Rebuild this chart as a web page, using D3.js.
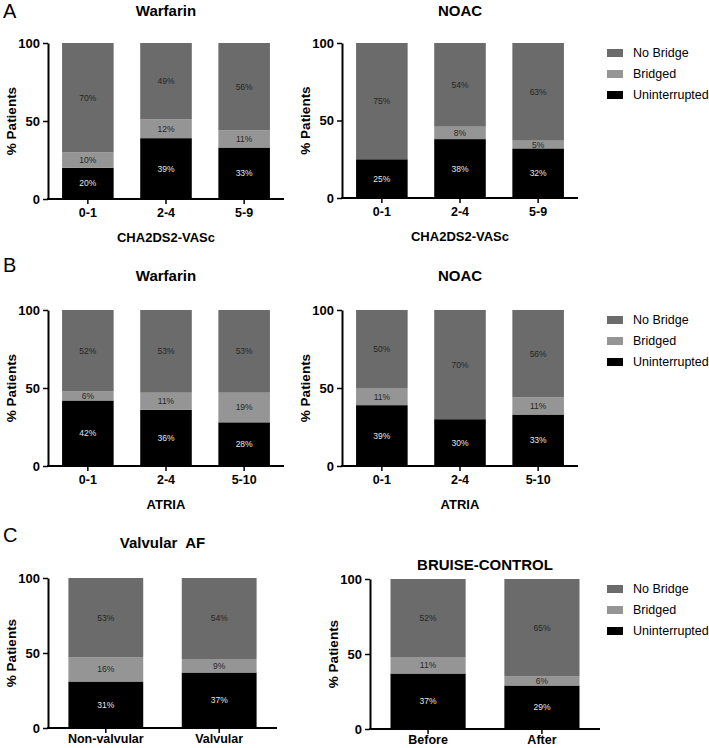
<!DOCTYPE html>
<html>
<head>
<meta charset="utf-8">
<script src="https://cdn.jsdelivr.net/npm/d3@7"></script>
<style>
  body { margin: 0; background: #fff; }
  svg { display: block; font-family: "Liberation Sans", Arial, sans-serif; }
</style>
</head>
<body>
<div id="chart"></div>
<script>
// series, bottom to top
const seriesKeys = ["unint", "bridged", "noBridge"];
const legendNames = ["No Bridge", "Bridged", "Uninterrupted"];
const legendColors = ["#6b6b6b", "#959595", "#000000"];
const yTicks = [0, 50, 100];

// A - CHA2DS2-VASc
const chaCats = ["0-1", "2-4", "5-9"];
const chaWarfarinUnint = [20, 39, 33];
const chaWarfarinBridged = [10, 12, 11];
const chaWarfarinNoBridge = [70, 49, 56];
const chaNoacUnint = [25, 38, 32];
const chaNoacBridged = [0, 8, 5];
const chaNoacNoBridge = [75, 54, 63];

// B - ATRIA
const atriaCats = ["0-1", "2-4", "5-10"];
const atriaWarfarinUnint = [42, 36, 28];
const atriaWarfarinBridged = [6, 11, 19];
const atriaWarfarinNoBridge = [52, 53, 53];
const atriaNoacUnint = [39, 30, 33];
const atriaNoacBridged = [11, 0, 11];
const atriaNoacNoBridge = [50, 70, 56];

// C - Valvular AF / BRUISE-CONTROL
const valvCats = ["Non-valvular", "Valvular"];
const valvUnint = [31, 37];
const valvBridged = [16, 9];
const valvNoBridge = [53, 54];
const bruiseCats = ["Before", "After"];
const bruiseUnint = [37, 29];
const bruiseBridged = [11, 6];
const bruiseNoBridge = [52, 65];

const W = 709, H = 748;
const svg = d3.select("#chart").append("svg")
  .attr("width", W).attr("height", H);

const panels = [
  {cats: chaCats, u: chaWarfarinUnint, b: chaWarfarinBridged, n: chaWarfarinNoBridge,
   title: "Warfarin", titleY: 16, xTitle: "CHA2DS2-VASc", x0: 48, x1: 284, top: 43, bottom: 199,
   letter: "A", letterY: 18, legend: false, pad: 4},
  {cats: chaCats, u: chaNoacUnint, b: chaNoacBridged, n: chaNoacNoBridge,
   title: "NOAC", titleY: 16, xTitle: "CHA2DS2-VASc", x0: 342, x1: 578, top: 43, bottom: 198,
   legend: true, pad: 4},
  {cats: atriaCats, u: atriaWarfarinUnint, b: atriaWarfarinBridged, n: atriaWarfarinNoBridge,
   title: "Warfarin", titleY: 281, xTitle: "ATRIA", x0: 48, x1: 284, top: 310, bottom: 466,
   letter: "B", letterY: 272, legend: false, pad: 4},
  {cats: atriaCats, u: atriaNoacUnint, b: atriaNoacBridged, n: atriaNoacNoBridge,
   title: "NOAC", titleY: 281, xTitle: "ATRIA", x0: 342, x1: 578, top: 310, bottom: 466,
   legend: true, pad: 4},
  {cats: valvCats, u: valvUnint, b: valvBridged, n: valvNoBridge,
   title: "Valvular  AF", titleY: 548, xTitle: null, x0: 48, x1: 277, top: 578, bottom: 728,
   letter: "C", letterY: 542, legend: false, pad: 1},
  {cats: bruiseCats, u: bruiseUnint, b: bruiseBridged, n: bruiseNoBridge,
   title: "BRUISE-CONTROL", titleY: 570, xTitle: null, x0: 370, x1: 600, top: 579, bottom: 729,
   legend: true, pad: 1}
];

panels.forEach(function (p) {
  const rows = p.cats.map(function (c, i) {
    return {cat: c, unint: p.u[i], bridged: p.b[i], noBridge: p.n[i]};
  });
  const stacked = d3.stack().keys(seriesKeys)(rows);

  const x = d3.scaleBand()
    .domain(p.cats)
    .range([p.x0, p.x1])
    .paddingInner(0.34)
    .paddingOuter(0.18);
  const y = d3.scaleLinear().domain([0, 100]).range([p.bottom, p.top]);
  const color = d3.scaleOrdinal()
    .domain(seriesKeys)
    .range(["#000000", "#959595", "#6b6b6b"]);

  const g = svg.append("g");

  g.selectAll("g.layer")
    .data(stacked)
    .enter()
    .append("g")
    .attr("class", "layer")
    .attr("fill", function (d) { return color(d.key); })
    .selectAll("rect")
    .data(function (d) { return d; })
    .enter()
    .append("rect")
    .attr("x", function (d) { return x(d.data.cat); })
    .attr("width", x.bandwidth())
    .attr("y", function (d) { return y(d[1]); })
    .attr("height", function (d) { return y(d[0]) - y(d[1]); });

  // percent labels
  stacked.forEach(function (layer) {
    g.selectAll(null)
      .data(layer.filter(function (d) { return d[1] - d[0] > 0; }))
      .enter()
      .append("text")
      .attr("x", function (d) { return x(d.data.cat) + x.bandwidth() / 2; })
      .attr("y", function (d) { return y((d[0] + d[1]) / 2); })
      .attr("dy", "0.35em")
      .attr("text-anchor", "middle")
      .style("font-size", "8.5px")
      .style("fill", layer.key == "unint" ? "#e6e6e6" : "#262626")
      .text(function (d) { return (d[1] - d[0]) + "%"; });
  });

  // axes
  const yAxis = g.append("g")
    .attr("transform", "translate(" + p.x0 + ",0)")
    .call(d3.axisLeft(y).tickValues(yTicks).tickSize(5).tickSizeOuter(0).tickPadding(3));
  const xAxis = g.append("g")
    .attr("transform", "translate(0," + p.bottom + ")")
    .call(d3.axisBottom(x).tickSize(5).tickSizeOuter(0).tickPadding(p.pad));

  [yAxis, xAxis].forEach(function (a) {
    a.select(".domain").attr("stroke", "#000").attr("stroke-width", 2);
    a.selectAll(".tick line").attr("stroke", "#000").attr("stroke-width", 1.5);
    a.selectAll("text")
      .attr("fill", "#000")
      .style("font-family", "'Liberation Sans', Arial, sans-serif")
      .style("font-weight", "bold");
  });
  yAxis.selectAll("text").style("font-size", "13px");
  xAxis.selectAll("text").style("font-size", "12.5px");
  xAxis.select(".domain").attr("d", "M" + (p.x0 - 1) + ",0H" + p.x1);

  // y axis title
  g.append("text")
    .attr("transform", "translate(" + (p.x0 - 32) + "," + ((p.top + p.bottom) / 2) + ") rotate(-90)")
    .attr("text-anchor", "middle")
    .style("font-size", "13.5px")
    .style("font-weight", "bold")
    .text("% Patients");

  // chart title
  g.append("text")
    .attr("x", (p.x0 + p.x1) / 2)
    .attr("y", p.titleY)
    .attr("text-anchor", "middle")
    .style("font-size", "15px")
    .style("font-weight", "bold")
    .style("white-space", "pre")
    .text(p.title);

  if (p.xTitle) {
    g.append("text")
      .attr("x", (p.x0 + p.x1) / 2)
      .attr("y", p.bottom + 43)
      .attr("text-anchor", "middle")
      .style("font-size", "13px")
      .style("font-weight", "bold")
      .text(p.xTitle);
  }

  if (p.letter) {
    g.append("text")
      .attr("x", 3)
      .attr("y", p.letterY)
      .style("font-size", "20px")
      .text(p.letter);
  }

  if (p.legend) {
    const lg = g.selectAll("g.leg")
      .data(legendNames)
      .enter()
      .append("g")
      .attr("class", "leg")
      .attr("transform", function (d, i) {
        return "translate(607," + (p.top + 10 + i * 21) + ")";
      });
    lg.append("rect")
      .attr("x", 0).attr("y", -4)
      .attr("width", 16).attr("height", 8)
      .attr("fill", function (d, i) { return legendColors[i]; });
    lg.append("text")
      .attr("x", 26)
      .attr("dy", "0.35em")
      .style("font-size", "12.5px")
      .text(function (d) { return d; });
  }
});
</script>
</body>
</html>
